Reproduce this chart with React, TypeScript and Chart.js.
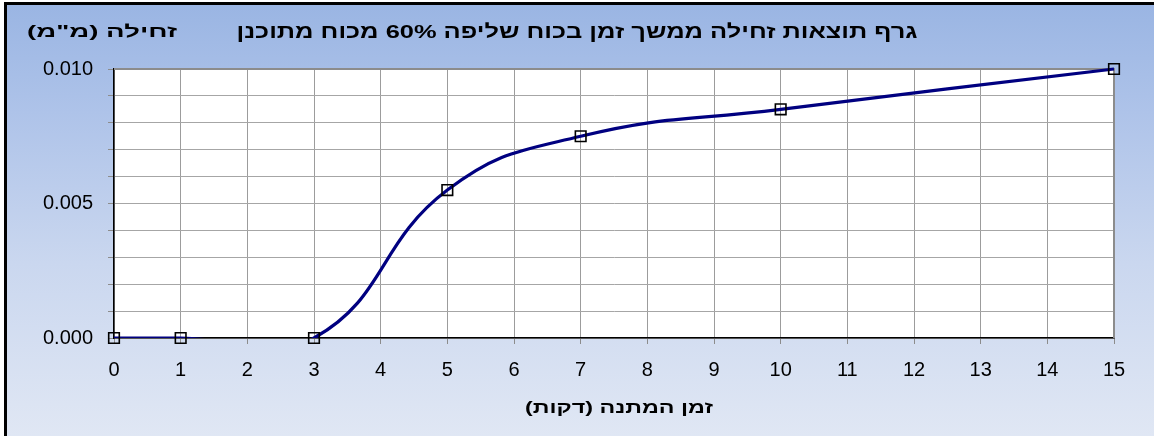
import React, { useEffect, useRef } from "react";
import { Chart, registerables } from "chart.js";

Chart.register(...registerables);

const times = [0, 1, 3, 5, 7, 10, 15];
const creep = [0, 0, 0, 0.0055, 0.0075, 0.0085, 0.01];
const xTickMin = 0;
const xTickMax = 15;
const yTickMin = 0;
const yTickMax = 0.01;
const titleText = "גרף תוצאות זחילה ממשך זמן בכוח שליפה 60% מכוח מתוכנן";
const yTitleText = 'זחילה (מ"מ)';
const xTitleText = "זמן המתנה (דקות)";

const FONT = "'Liberation Sans', Arial, 'DejaVu Sans', sans-serif";

function drawStretched(ctx: any, text: string, cx: number, cy: number, size: number, targetW: number) {
  ctx.save();
  ctx.font = `bold ${size}px ${FONT}`;
  ctx.direction = "rtl";
  ctx.textAlign = "center";
  ctx.textBaseline = "middle";
  ctx.fillStyle = "#000000";
  const w = ctx.measureText(text).width || targetW;
  ctx.translate(cx, cy);
  ctx.scale(targetW / w, 1);
  ctx.fillText(text, 0, 0);
  ctx.restore();
}

const framePlugin = {
  id: "frame",
  beforeDraw(chart: any) {
    const { ctx, width, height, chartArea } = chart;
    ctx.save();
    ctx.fillStyle = "#ffffff";
    ctx.fillRect(0, 0, width, height);
    const g = ctx.createLinearGradient(0, 4, 0, height);
    g.addColorStop(0, "#9ab5e3");
    g.addColorStop(0.25, "#aec3e9");
    g.addColorStop(0.6, "#cad7ef");
    g.addColorStop(1, "#e0e7f4");
    ctx.fillStyle = g;
    ctx.fillRect(5, 3, width - 5, height - 3);
    ctx.strokeStyle = "#000000";
    ctx.lineWidth = 3;
    ctx.beginPath();
    ctx.moveTo(5.5, height);
    ctx.lineTo(5.5, 3.5);
    ctx.lineTo(width, 3.5);
    ctx.stroke();
    ctx.fillStyle = "#ffffff";
    ctx.fillRect(chartArea.left, chartArea.top, chartArea.right - chartArea.left, chartArea.bottom - chartArea.top);
    ctx.restore();
  },
  beforeDatasetsDraw(chart: any) {
    const { ctx, chartArea } = chart;
    ctx.save();
    ctx.strokeStyle = "#8c8c8c";
    ctx.lineWidth = 2;
    ctx.beginPath();
    ctx.moveTo(chartArea.left, chartArea.top);
    ctx.lineTo(chartArea.right, chartArea.top);
    ctx.lineTo(chartArea.right, chartArea.bottom);
    ctx.stroke();
    ctx.restore();
  },
  afterDraw(chart: any) {
    const { ctx } = chart;
    drawStretched(ctx, titleText, 577, 33, 19, 681);
    drawStretched(ctx, yTitleText, 102, 32, 17, 150);
    drawStretched(ctx, xTitleText, 619, 408, 17, 188);
  },
};

export default function App() {
  const ref = useRef<HTMLCanvasElement>(null);
  useEffect(() => {
    document.body.style.margin = "0";
    const canvas = ref.current!;
    const data = times.map((t, i) => ({ x: t, y: creep[i] }));
    const chart = new Chart(canvas, {
      type: "scatter",
      data: {
        datasets: [
          {
            data,
            showLine: true,
            borderColor: "#000080",
            borderWidth: 3.2,
            tension: 0.45,
            pointRadius: 0,
            pointHoverRadius: 0,
            clip: { left: 5, top: 5, right: 5, bottom: 0 } as any,
            order: 2,
          },
          {
            data,
            showLine: false,
            pointStyle: "rect",
            pointRadius: 7.5,
            pointHoverRadius: 7.5,
            pointBorderColor: "#000000",
            pointBorderWidth: 1.6,
            pointBackgroundColor: "rgba(0,0,0,0)",
            clip: false as any,
            order: 1,
          },
        ],
      },
      options: {
        responsive: false,
        animation: false,
        devicePixelRatio: 1,
        elements: { line: { capBezierPoints: false } },
        layout: { padding: { left: 0, top: 69, right: 40, bottom: 0 } },
        plugins: { legend: { display: false }, title: { display: false }, tooltip: { enabled: false } },
        scales: {
          x: {
            type: "linear",
            min: xTickMin,
            max: xTickMax,
            afterFit(scale: any) {
              scale.height = 98;
            },
            grid: { color: "#9c9c9c", tickColor: "#8c8c8c", tickLength: 6, lineWidth: 1 },
            border: { display: true, color: "#000000", width: 1.5 },
            ticks: {
              stepSize: 1,
              autoSkip: false,
              maxRotation: 0,
              color: "#000000",
              padding: 14,
              font: { family: FONT, size: 20 },
            },
          },
          y: {
            type: "linear",
            min: yTickMin,
            max: yTickMax,
            afterFit(scale: any) {
              scale.width = 114;
            },
            grid: { color: "#a6a6a6", tickColor: "#8c8c8c", tickLength: 6, lineWidth: 1 },
            border: { display: true, color: "#000000", width: 1.5 },
            ticks: {
              stepSize: 0.001,
              autoSkip: false,
              color: "#000000",
              padding: 15,
              font: { family: FONT, size: 20 },
              callback: (v: any) => (Math.round(Number(v) * 1000) % 5 === 0 ? Number(v).toFixed(3) : ""),
            },
          },
        },
      },
      plugins: [framePlugin],
    });
    return () => chart.destroy();
  }, []);
  return (
    <div style={{ width: 1154, height: 436 }}>
      <canvas ref={ref} width={1154} height={436} style={{ display: "block" }} />
    </div>
  );
}
